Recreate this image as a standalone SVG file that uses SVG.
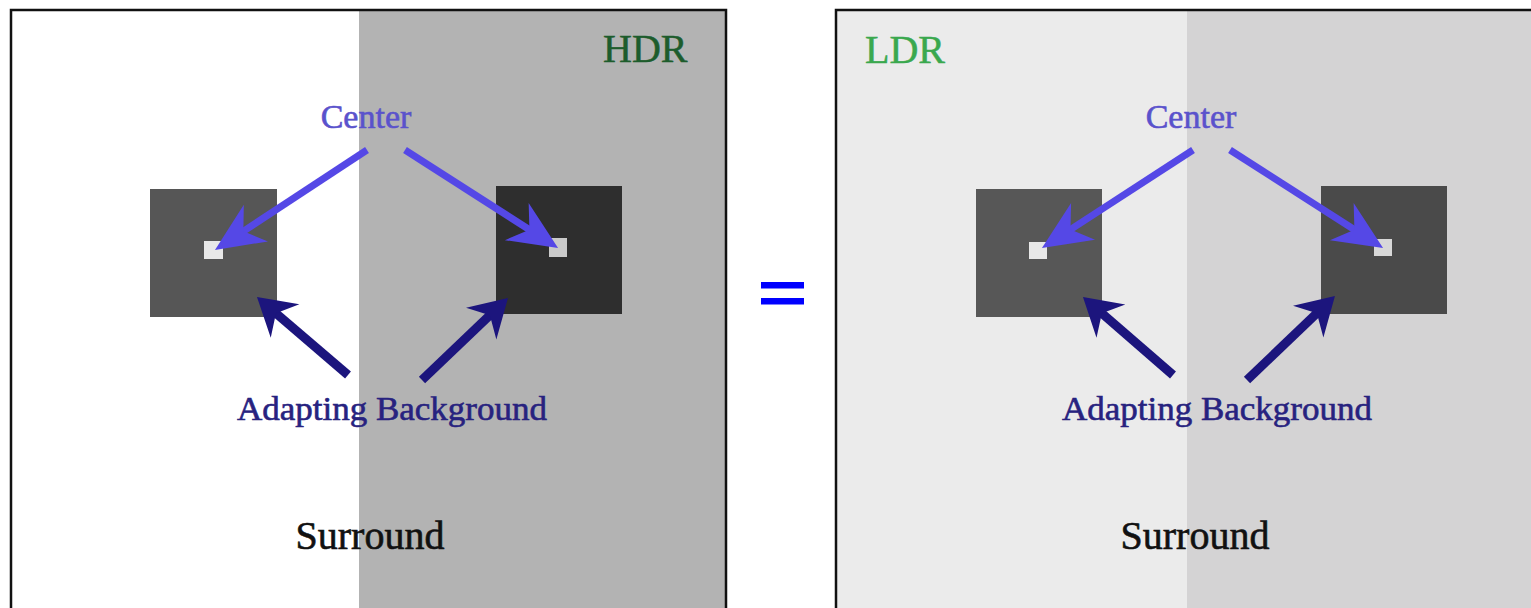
<svg xmlns="http://www.w3.org/2000/svg" width="1531" height="608" viewBox="0 0 1531 608">
<style>
.lbl{font-family:"Liberation Serif","Times New Roman",serif;}
.center{fill:#5a52cc;stroke:#5a52cc;stroke-width:0.6;font-size:34px;}
.adapt{fill:#27227f;stroke:#27227f;stroke-width:0.6;font-size:34px;}
.surr{fill:#111;stroke:#111;stroke-width:0.6;font-size:40px;}
.carrow{stroke:#5548e6;stroke-width:7;fill:none;}
.aarrow{stroke:#1c157d;stroke-width:9;fill:none;}
.frame{fill:none;stroke:#111;stroke-width:2.5;}
</style>
<defs>
<marker id="mc" markerUnits="userSpaceOnUse" markerWidth="60" markerHeight="50" refX="0" refY="0" orient="auto" overflow="visible" viewBox="-20 -25 60 50">
<path d="M32,0 L-17,-22 L-2,0 L-17,22 Z" fill="#5548e6"/>
</marker>
<marker id="ma" markerUnits="userSpaceOnUse" markerWidth="50" markerHeight="50" refX="0" refY="0" orient="auto" overflow="visible" viewBox="-20 -25 50 50">
<path d="M24,0 L-13,-22 L-1,0 L-13,22 Z" fill="#1c157d"/>
</marker>
</defs>
<rect x="0" y="0" width="1531" height="608" fill="#fff"/>
<g id="panel-hdr">
<rect x="12" y="11" width="347" height="600" fill="#ffffff"/>
<rect x="359" y="11" width="367" height="600" fill="#b3b3b3"/>
<rect class="frame" x="11" y="10" width="715" height="620"/>
<text class="lbl" x="603" y="62" font-size="40" fill="#1d5c2c" stroke="#1d5c2c" stroke-width="0.5">HDR</text>
</g>
<g id="hdr-left-square">
<rect x="150" y="189" width="127" height="128" fill="#565656"/>
<rect x="204" y="241" width="19" height="18" fill="#e8e8e8"/>
</g>
<g id="hdr-right-square">
<rect x="496" y="186" width="126" height="128" fill="#2e2e2e"/>
<rect x="549" y="238" width="18" height="19" fill="#cacaca"/>
</g>
<g id="hdr-labels">
<text class="lbl center" x="366" y="128" text-anchor="middle">Center</text>
<text class="lbl adapt" x="392" y="420" text-anchor="middle" textLength="310" lengthAdjust="spacingAndGlyphs">Adapting Background</text>
<text class="lbl surr" x="370" y="549" text-anchor="middle">Surround</text>
</g>
<g id="equals">
<rect x="761" y="282" width="43" height="6.5" fill="#0000ff"/>
<rect x="761" y="298" width="43" height="6.5" fill="#0000ff"/>
</g>
<g id="panel-ldr">
<rect x="837" y="11" width="350" height="600" fill="#ebebeb"/>
<rect x="1187" y="11" width="344" height="600" fill="#d4d3d4"/>
<rect class="frame" x="836" y="10" width="720" height="620"/>
<text class="lbl" x="865" y="63" font-size="40" fill="#3aa84e" stroke="#3aa84e" stroke-width="0.5">LDR</text>
</g>
<g id="ldr-left-square">
<rect x="976" y="189" width="126" height="128" fill="#575757"/>
<rect x="1029" y="242" width="18" height="17" fill="#e8e8e8"/>
</g>
<g id="ldr-right-square">
<rect x="1321" y="186" width="126" height="128" fill="#4a4a4a"/>
<rect x="1374" y="239" width="18" height="17" fill="#d8d8d8"/>
</g>
<g id="ldr-labels">
<text class="lbl center" x="1191" y="128" text-anchor="middle">Center</text>
<text class="lbl adapt" x="1217" y="420" text-anchor="middle" textLength="310" lengthAdjust="spacingAndGlyphs">Adapting Background</text>
<text class="lbl surr" x="1195" y="549" text-anchor="middle">Surround</text>
</g>
<g id="connectors">
<line class="carrow" x1="367" y1="150" x2="241.7" y2="232.4" marker-end="url(#mc)"/>
<line class="carrow" x1="405" y1="150" x2="531.1" y2="230.8" marker-end="url(#mc)"/>
<line class="aarrow" x1="348" y1="375" x2="275.2" y2="312.6" marker-end="url(#ma)"/>
<line class="aarrow" x1="422" y1="380" x2="490.6" y2="314.6" marker-end="url(#ma)"/>
<line class="carrow" x1="1193" y1="150" x2="1068.8" y2="230.6" marker-end="url(#mc)"/>
<line class="carrow" x1="1230" y1="150" x2="1356.1" y2="230.8" marker-end="url(#mc)"/>
<line class="aarrow" x1="1173" y1="375" x2="1101.1" y2="312.7" marker-end="url(#ma)"/>
<line class="aarrow" x1="1247" y1="380" x2="1317.6" y2="312.6" marker-end="url(#ma)"/>
</g>
</svg>
